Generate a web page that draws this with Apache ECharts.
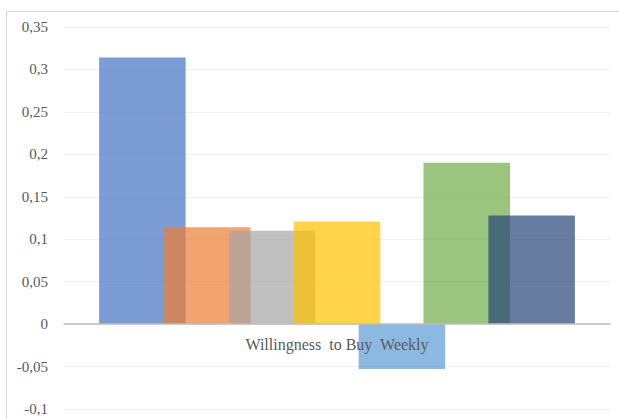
<!DOCTYPE html>
<html lang="en">
<head>
    <meta charset="UTF-8">
    <title>Willingness to Buy Weekly</title>
    <script type="text/javascript" src="https://cdn.jsdelivr.net/npm/echarts@6/dist/echarts.min.js"></script>
    <style>
        html, body { margin: 0; padding: 0; background: #fff; }
        #chart { width: 619px; height: 419px; }
    </style>
</head>
<body>
<div id="chart"></div>
<script>
    // one category, seven overlapping series
    var categories = ['Willingness  to Buy  Weekly'];
    var seriesNames = ['Series 1', 'Series 2', 'Series 3', 'Series 4', 'Series 5', 'Series 6', 'Series 7'];
    var seriesValues = [0.314, 0.114, 0.110, 0.121, -0.053, 0.190, 0.128];
    var seriesColors = ['#4472C4', '#ED7D31', '#A5A5A5', '#FFC000', '#5B9BD5', '#70AD47', '#264478'];

    var serifFont = '"Liberation Serif", "Times New Roman", serif';

    var chart = echarts.init(document.getElementById('chart'), null, {renderer: 'svg'});

    var series = [];
    for (var i = 0; i < seriesNames.length; i++) {
        series.push({
            name: seriesNames[i],
            type: 'bar',
            data: [seriesValues[i]],
            barWidth: 86.5,
            barGap: '-25%',
            itemStyle: {color: seriesColors[i], opacity: 0.7}
        });
    }

    chart.setOption({
        animation: false,
        backgroundColor: '#fff',
        // chart area frame
        graphic: [{
            type: 'rect',
            shape: {x: 6.5, y: 11.5, width: 640, height: 440},
            style: {fill: 'none', stroke: '#d9d9d9', lineWidth: 1},
            silent: true
        }],
        grid: {left: 64, right: 9, top: 27, bottom: 10, containLabel: false, outerBoundsMode: 'none'},
        xAxis: {
            type: 'category',
            data: categories,
            z: 10,
            // axis sits on the zero line (0 is 85px above the grid bottom)
            offset: -85,
            axisLine: {onZero: false, lineStyle: {color: '#bfbfbf', width: 1.5}},
            axisTick: {show: false},
            axisLabel: {
                margin: 12,
                fontFamily: serifFont,
                fontSize: 16,
                color: '#595959'
            }
        },
        yAxis: {
            type: 'value',
            min: -0.1,
            max: 0.35,
            interval: 0.05,
            axisLine: {show: false},
            axisTick: {show: false},
            splitLine: {lineStyle: {color: '#f0f0f0', width: 1}},
            axisLabel: {
                margin: 16,
                fontFamily: serifFont,
                fontSize: 15,
                color: '#595959',
                formatter: function (v) {
                    return String(parseFloat(v.toFixed(2))).replace('.', ',');
                }
            }
        },
        series: series
    });
</script>
</body>
</html>
